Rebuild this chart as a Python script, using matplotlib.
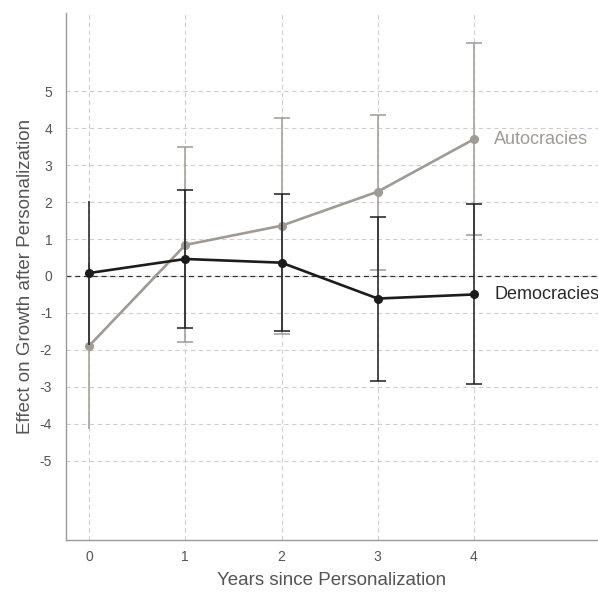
import numpy as np
import matplotlib.pyplot as plt

plt.rcParams['font.family'] = ['Liberation Sans', 'DejaVu Sans']
plt.rcParams['axes.unicode_minus'] = False

# Estimated effects and confidence intervals by year since personalization
years = [0, 1, 2, 3, 4]

dem_est = [0.08, 0.46, 0.36, -0.61, -0.50]
dem_lo = [-1.86, -1.41, -1.50, -2.83, -2.93]
dem_hi = [2.02, 2.33, 2.22, 1.59, 1.95]

aut_est = [-1.89, 0.84, 1.36, 2.28, 3.70]
aut_lo = [-4.15, -1.78, -1.57, 0.16, 1.10]
aut_hi = [0.37, 3.48, 4.28, 4.35, 6.30]

grey = '#a09a94'
dark = '#1c1c1c'

fig = plt.figure(figsize=(5.98, 5.96), dpi=100)
ax = fig.add_axes([0.1104, 0.094, 0.8896, 0.884])

ax.set_xlim(-0.24, 5.29)
ax.set_ylim(-7.14, 7.11)
ax.set_xticks(years)
ax.set_yticks(range(-5, 6))
ax.grid(True, color='#cfcfcf', linestyle=(0, (4, 3)), linewidth=0.8)
ax.set_axisbelow(True)
ax.axhline(0, color='#333333', linestyle=(0, (4, 3)), linewidth=0.9, zorder=1)


def draw_series(est, lo, hi, color, lw, z):
    est = np.array(est)
    err = np.array([est - np.array(lo), np.array(hi) - est])
    # first point has no caps
    ax.errorbar(years[:1], est[:1], yerr=err[:, :1], fmt='none',
                ecolor=color, elinewidth=1.1, capsize=0, zorder=z)
    ax.errorbar(years[1:], est[1:], yerr=err[:, 1:], fmt='none',
                ecolor=color, elinewidth=1.1, capsize=6, capthick=1.1, zorder=z)
    ax.plot(years, est, color=color, linewidth=lw, marker='o',
            markersize=5.5, zorder=z + 1)


draw_series(aut_est, aut_lo, aut_hi, grey, 1.9, 2)
draw_series(dem_est, dem_lo, dem_hi, dark, 1.9, 4)

ax.text(4.21, aut_est[-1], 'Autocracies', color=grey, fontsize=13, va='center')
ax.text(4.21, dem_est[-1], 'Democracies', color='#2a2a2a', fontsize=13, va='center')

for side in ['top', 'right']:
    ax.spines[side].set_visible(False)
for side in ['left', 'bottom']:
    ax.spines[side].set_color('#999999')
    ax.spines[side].set_linewidth(1.0)

ax.tick_params(length=0, labelsize=10, labelcolor='#555555')
ax.tick_params(axis='x', pad=7)
ax.tick_params(axis='y', pad=10)
ax.set_xlabel('Years since Personalization', fontsize=13.5, color='#555555', labelpad=6)
ax.set_ylabel('Effect on Growth after Personalization', fontsize=13.5, color='#555555', labelpad=4)

fig.savefig('out.png', dpi=100)
